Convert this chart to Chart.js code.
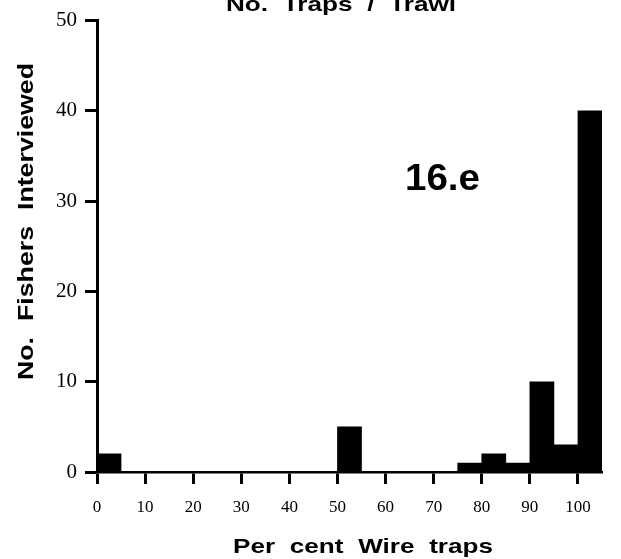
<!DOCTYPE html>
<html>
<head>
<meta charset="utf-8">
<script src="https://cdn.jsdelivr.net/npm/chart.js@4.4.1/dist/chart.umd.min.js"></script>
<style>
  html, body { margin: 0; padding: 0; background: #ffffff; }
  canvas { display: block; }
</style>
</head>
<body>
<canvas id="hist" width="621" height="559"></canvas>
<script>
// Histogram bins (per cent of wire traps, 5 % wide) and number of fishers in each
const binStarts = [0, 5, 10, 15, 20, 25, 30, 35, 40, 45, 50, 55, 60, 65, 70, 75, 80, 85, 90, 95, 100];
const binWidth = 5;
const fishers = [2, 0, 0, 0, 0, 0, 0, 0, 0, 0, 5, 0, 0, 0, 0, 1, 2, 1, 10, 3, 40];

// Axis ticks
const xTickValues = [0, 10, 20, 30, 40, 50, 60, 70, 80, 90, 100];
const yTickValues = [0, 10, 20, 30, 40, 50];

// Texts
const chartTitle = 'No. Traps / Trawl';
const xTitle = 'Per cent Wire traps';
const yTitle = 'No. Fishers Interviewed';
const panelTag = '16.e';

const INK = '#000000';
const SANS = "'Liberation Sans', Arial, Helvetica, sans-serif";
const SERIF = "'Liberation Serif', 'Times New Roman', serif";

const points = binStarts.map((s, i) => ({ x: s + binWidth / 2, y: fishers[i] }));

// Bold sans text squeezed or stretched horizontally to a given width
function stretchedText(ctx, text, o) {
  ctx.save();
  ctx.font = o.font;
  if ('wordSpacing' in ctx) ctx.wordSpacing = o.wordSpacing || '0px';
  const w = ctx.measureText(text).width;
  const sx = o.width ? o.width / w : 1;
  ctx.translate(o.x, o.y);
  if (o.rotate) ctx.rotate(o.rotate);
  ctx.scale(sx, 1);
  ctx.textAlign = 'center';
  ctx.textBaseline = 'alphabetic';
  ctx.fillStyle = INK;
  ctx.fillText(text, 0, 0);
  ctx.restore();
}

const textPlugin = {
  id: 'figureTexts',
  afterDraw(chart) {
    const ctx = chart.ctx;
    stretchedText(ctx, chartTitle, { x: 341, y: 11, width: 230, font: 'bold 21px ' + SANS, wordSpacing: '6px' });
    stretchedText(ctx, xTitle, { x: 363, y: 553, width: 260, font: 'bold 21px ' + SANS, wordSpacing: '6px' });
    stretchedText(ctx, yTitle, { x: 33, y: 221.5, width: 317, font: 'bold 22px ' + SANS, wordSpacing: '7px', rotate: -Math.PI / 2 });
    stretchedText(ctx, panelTag, { x: 442.5, y: 190, width: 75, font: 'bold 37px ' + SANS });
  }
};

new Chart(document.getElementById('hist'), {
  type: 'bar',
  data: {
    datasets: [{
      data: points,
      backgroundColor: INK,
      borderWidth: 0,
      barPercentage: 1,
      categoryPercentage: 1
    }]
  },
  options: {
    responsive: false,
    animation: false,
    events: [],
    layout: { padding: { top: 18, right: 19, left: 0, bottom: 0 } },
    plugins: {
      legend: { display: false },
      title: { display: false },
      tooltip: { enabled: false }
    },
    scales: {
      x: {
        type: 'linear',
        min: 0,
        max: 105,
        offset: false,
        afterFit: s => { s.height = 87; },
        afterBuildTicks: s => { s.ticks = xTickValues.map(v => ({ value: v })); },
        border: { display: true, color: INK, width: 2.5 },
        grid: {
          display: true,
          offset: false,
          drawOnChartArea: false,
          drawTicks: true,
          tickLength: 12,
          tickWidth: 3,
          tickColor: INK,
          color: INK
        },
        ticks: {
          color: INK,
          padding: 13,
          maxRotation: 0,
          autoSkip: false,
          font: { family: SERIF, size: 17 }
        }
      },
      y: {
        type: 'linear',
        min: 0,
        max: 50,
        afterFit: s => { s.width = 97; },
        afterBuildTicks: s => { s.ticks = yTickValues.map(v => ({ value: v })); },
        border: { display: true, color: INK, width: 3 },
        grid: {
          display: true,
          drawOnChartArea: false,
          drawTicks: true,
          tickLength: 12,
          tickWidth: 3,
          tickColor: INK,
          color: INK
        },
        ticks: {
          color: INK,
          padding: 8,
          autoSkip: false,
          font: { family: SERIF, size: 21 }
        }
      }
    }
  },
  plugins: [textPlugin]
});
</script>
</body>
</html>
